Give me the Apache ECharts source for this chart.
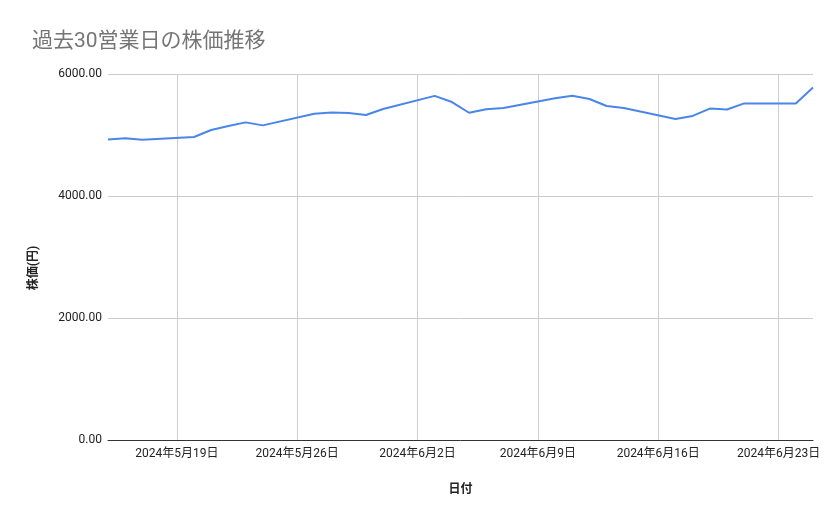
<!DOCTYPE html>
<html lang="ja">
<head>
    <meta charset="UTF-8">
    <title>過去30営業日の株価推移</title>
    <script src="https://cdn.jsdelivr.net/npm/echarts@6/dist/echarts.min.js"></script>
    <style>
        *{
            margin: 0;
            padding: 0;
        }
        html ,body{
            width: 100%;
            height: 100%;
            overflow: hidden;
            background: #fff;
        }
        .container{
            width: 839px;
            height: 519px;
        }
    </style>
</head>
<body>
<div class="container"></div>
<script>
    // 営業日と終値
    let tradeDates=[
        '2024-05-15','2024-05-16','2024-05-17',
        '2024-05-20','2024-05-21','2024-05-22','2024-05-23','2024-05-24',
        '2024-05-27','2024-05-28','2024-05-29','2024-05-30','2024-05-31',
        '2024-06-03','2024-06-04','2024-06-05','2024-06-06','2024-06-07',
        '2024-06-10','2024-06-11','2024-06-12','2024-06-13','2024-06-14',
        '2024-06-17','2024-06-18','2024-06-19','2024-06-20','2024-06-21',
        '2024-06-24','2024-06-25'
    ];
    let prices=[
        4928,4945,4922,
        4967,5082,5147,5207,5158,
        5350,5368,5362,5328,5426,
        5641,5540,5365,5422,5442,
        5603,5643,5590,5475,5442,
        5262,5313,5433,5417,5518,
        5518,5777
    ];
    let yTicks=[0,2000,4000,6000];

    // 暦日のカテゴリ（週末は値なし）
    let days=[];
    let values=[];
    let pad=n=>(n<10?'0':'')+n;
    let d=new Date(tradeDates[0]+'T00:00:00');
    let end=new Date(tradeDates[tradeDates.length-1]+'T00:00:00');
    while(d<=end){
        let key=d.getFullYear()+'-'+pad(d.getMonth()+1)+'-'+pad(d.getDate());
        days.push(key);
        let i=tradeDates.indexOf(key);
        values.push(i>=0?prices[i]:null);
        d.setDate(d.getDate()+1);
    }
    let isSunday=(index,value)=>new Date(value+'T00:00:00').getDay()===0;

    let font='Roboto, "Noto Sans CJK JP", sans-serif';
    let container=document.querySelector('.container');
    let mycharts=echarts.init(container);

    let options={
        backgroundColor:'#fff',
        animation:false,
        title:{
            text:'過去30営業日の株価推移',
            left:27,
            top:26,
            textStyle:{
                fontFamily:font,
                fontSize:21,
                fontWeight:'normal',
                color:'#757575'
            }
        },
        grid:{
            left:108,
            right:26,
            top:74,
            bottom:79
        },
        xAxis:{
            type:'category',
            data:days,
            boundaryGap:false,
            name:'日付',
            nameLocation:'middle',
            nameGap:44,
            nameTextStyle:{
                fontFamily:font,
                fontSize:12,
                fontWeight:'bold',
                color:'#222'
            },
            axisLine:{
                lineStyle:{color:'#333',width:1}
            },
            axisTick:{show:false},
            axisLabel:{
                interval:isSunday,
                margin:8,
                fontFamily:font,
                fontSize:12,
                color:'#222',
                formatter:function (value) {
                    let p=value.split('-');
                    return p[0]+'年'+Number(p[1])+'月'+Number(p[2])+'日';
                }
            },
            splitLine:{
                show:true,
                interval:isSunday,
                lineStyle:{color:'#ccc',width:1}
            }
        },
        yAxis:{
            type:'value',
            min:yTicks[0],
            max:yTicks[yTicks.length-1],
            interval:yTicks[1]-yTicks[0],
            name:'株価(円)',
            nameLocation:'middle',
            nameGap:68,
            nameTextStyle:{
                fontFamily:font,
                fontSize:12,
                fontWeight:'bold',
                color:'#222',
                padding:[0,22,0,0]
            },
            axisLine:{show:false},
            axisTick:{show:false},
            axisLabel:{
                margin:6,
                fontFamily:font,
                fontSize:12,
                color:'#222',
                formatter:v=>v.toFixed(2)
            },
            splitLine:{
                lineStyle:{color:'#ccc',width:1}
            }
        },
        series:[{
            type:'line',
            data:values,
            connectNulls:true,
            showSymbol:false,
            symbol:'none',
            lineStyle:{color:'#4a86e8',width:2},
            itemStyle:{color:'#4a86e8'}
        }]
    };

    mycharts.setOption(options);
</script>
</body>
</html>
